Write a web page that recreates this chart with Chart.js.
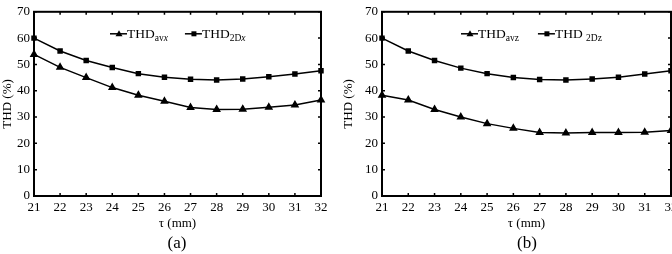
<!DOCTYPE html>
<html>
<head>
<meta charset="utf-8">
<script src="https://cdn.jsdelivr.net/npm/chart.js@4/dist/chart.umd.min.js"></script>
<style>
  html, body { margin: 0; padding: 0; background: #fff; }
  body { width: 672px; height: 254px; position: relative; overflow: hidden; font-family: "Liberation Serif", "Times New Roman", serif; }
  .wrap { position: absolute; top: 0; height: 254px; }
  .cap { position: absolute; font-size: 17px; color: #000; transform: translate(-50%, -50%); white-space: nowrap; }
</style>
</head>
<body>
<div class="wrap" style="left:0;width:336px;"><canvas id="ca" width="336" height="254"></canvas></div>
<div class="wrap" style="left:336px;width:350px;"><canvas id="cb" width="350" height="254"></canvas></div>
<div class="cap" style="left:177px;top:243px;">(a)</div>
<div class="cap" style="left:527px;top:243px;">(b)</div>
<script>
// ---- data ----
const tau = [21, 22, 23, 24, 25, 26, 27, 28, 29, 30, 31, 32];
const yTicks = [0, 10, 20, 30, 40, 50, 60, 70];
const thdAvx = [53.8, 48.9, 45.0, 41.2, 38.3, 36.0, 33.6, 32.9, 33.0, 33.7, 34.6, 36.5];
const thd2Dx = [60.0, 55.1, 51.5, 48.8, 46.5, 45.1, 44.4, 44.1, 44.5, 45.3, 46.4, 47.6];
const thdAvz = [38.3, 36.5, 32.9, 30.0, 27.5, 25.7, 24.1, 23.9, 24.1, 24.1, 24.2, 24.9];
const thd2Dz = [60.0, 55.1, 51.5, 48.6, 46.5, 45.0, 44.3, 44.1, 44.5, 45.1, 46.4, 47.6];
const xTitle = 'τ (mm)';
const yTitle = 'THD (%)';

const SERIF = '"Liberation Serif", "Times New Roman", serif';

const framePlugin = {
  id: 'frame',
  afterDatasetsDraw(chart) {
    const {ctx, chartArea: a, scales} = chart;
    ctx.save();
    ctx.strokeStyle = '#000';
    ctx.lineWidth = 1.5;
    ctx.beginPath();
    scales.x.ticks.forEach((t, i) => {
      const x = scales.x.getPixelForTick(i);
      ctx.moveTo(x, a.bottom); ctx.lineTo(x, a.bottom - 3);
      ctx.moveTo(x, a.top); ctx.lineTo(x, a.top + 3);
    });
    scales.y.ticks.forEach(t => {
      const y = scales.y.getPixelForValue(t.value);
      ctx.moveTo(a.left, y); ctx.lineTo(a.left + 3, y);
      ctx.moveTo(a.right, y); ctx.lineTo(a.right - 3, y);
    });
    ctx.stroke();
    ctx.lineWidth = 2;
    ctx.strokeRect(a.left, a.top, a.right - a.left, a.bottom - a.top);
    ctx.restore();
  }
};

const legendPlugin = {
  id: 'subLegend',
  afterDraw(chart, args, opts) {
    const {ctx, chartArea: a} = chart;
    let x = a.left + opts.offsetX;
    const y = a.top + opts.offsetY;
    ctx.save();
    ctx.fillStyle = '#000';
    ctx.strokeStyle = '#000';
    opts.items.forEach((it) => {
      ctx.lineWidth = 1.5;
      ctx.beginPath(); ctx.moveTo(x, y); ctx.lineTo(x + 17, y); ctx.stroke();
      const mx = x + 9;
      ctx.beginPath();
      if (it.marker === 'triangle') {
        ctx.moveTo(mx, y - 3.5); ctx.lineTo(mx + 3.5, y + 2.5); ctx.lineTo(mx - 3.5, y + 2.5); ctx.closePath();
      } else {
        ctx.rect(mx - 2.5, y - 2.5, 5, 5);
      }
      ctx.fill();
      x += 17;
      ctx.textBaseline = 'alphabetic';
      ctx.font = '13.5px ' + SERIF;
      ctx.fillText(it.main, x, y + 4.5);
      x += ctx.measureText(it.main).width;
      it.sub.forEach(s => {
        ctx.font = (s.italic ? 'italic ' : '') + '9.5px ' + SERIF;
        ctx.fillText(s.t, x, y + 7);
        x += ctx.measureText(s.t).width;
      });
      x += opts.gap;
    });
    ctx.restore();
  }
};

function makeChart(id, s1, s2, yWidth, titlePad, legendOpts) {
  return new Chart(document.getElementById(id), {
    type: 'line',
    data: {
      labels: tau,
      datasets: [
        { data: s1, borderColor: '#000', backgroundColor: '#000', borderWidth: 1.5,
          pointStyle: 'triangle', pointRadius: 3.5, pointHoverRadius: 3.5, tension: 0 },
        { data: s2, borderColor: '#000', backgroundColor: '#000', borderWidth: 1.5,
          pointStyle: 'rect', pointRadius: 2.8, pointHoverRadius: 2.8, tension: 0 }
      ]
    },
    options: {
      responsive: false,
      animation: false,
      devicePixelRatio: 1,
      layout: { padding: { left: 0, top: 10, right: 15, bottom: 0 } },
      plugins: { legend: { display: false }, tooltip: { enabled: false }, subLegend: legendOpts },
      scales: {
        x: {
          type: 'category',
          offset: false,
          grid: { display: false, drawTicks: false },
          border: { display: false },
          ticks: { color: '#000', font: { family: SERIF, size: 13 }, padding: 4, maxRotation: 0, autoSkip: false },
          title: { display: true, text: xTitle, color: '#000', font: { family: SERIF, size: 13 }, padding: { top: 0, bottom: 23 } },
          afterFit(scale) { scale.height = 58; }
        },
        y: {
          min: 0, max: 70,
          afterBuildTicks(scale) { scale.ticks = yTicks.map(v => ({ value: v })); },
          grid: { display: false, drawTicks: false },
          border: { display: false },
          ticks: { color: '#000', font: { family: SERIF, size: 13 }, padding: 4 },
          title: { display: true, text: yTitle, color: '#000', font: { family: SERIF, size: 13 }, padding: { top: titlePad, bottom: 0 } },
          afterFit(scale) { scale.width = yWidth; }
        }
      }
    },
    plugins: [framePlugin, legendPlugin]
  });
}

makeChart('ca', thdAvx, thd2Dx, 34, 0, {
  offsetX: 76, offsetY: 22, gap: 17,
  items: [
    { marker: 'triangle', main: 'THD', sub: [{ t: 'av' }, { t: 'x', italic: true }] },
    { marker: 'rect', main: 'THD', sub: [{ t: '2D' }, { t: 'x', italic: true }] }
  ]
});
makeChart('cb', thdAvz, thd2Dz, 46, 5, {
  offsetX: 79, offsetY: 22, gap: 19,
  items: [
    { marker: 'triangle', main: 'THD', sub: [{ t: 'avz' }] },
    { marker: 'rect', main: 'THD ', sub: [{ t: '2Dz' }] }
  ]
});
</script>
</body>
</html>
